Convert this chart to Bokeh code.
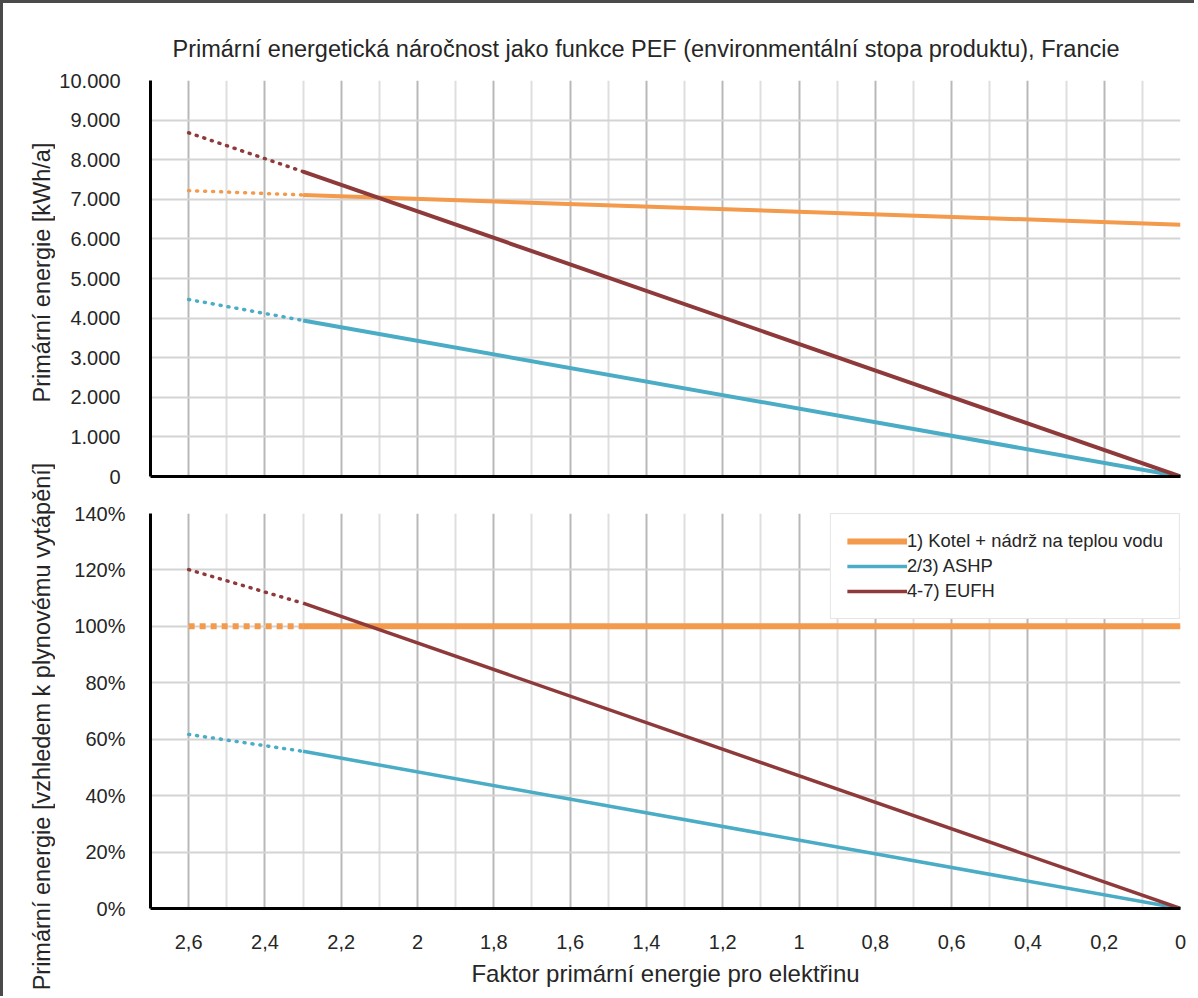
import math
from bokeh.plotting import figure
from bokeh.models import Range1d, FixedTicker, Grid, LinearAxis, Legend, LegendItem, Label
from bokeh.layouts import row, column
from bokeh.embed import file_html
from bokeh.resources import INLINE

# ---------------- data ----------------
title_text = "Primární energetická náročnost jako funkce PEF (environmentální stopa produktu), Francie"
x_label = "Faktor primární energie pro elektřinu"
y_label_top = "Primární energie [kWh/a]"
y_label_bottom = "Primární energie [vzhledem k plynovému vytápění]"
series_names = ["1) Kotel + nádrž na teplou vodu", "2/3) ASHP", "4-7) EUFH"]

# PEF values (x): dotted extrapolated part and solid part
pef_dotted = [2.6, 2.3]
pef_solid = [2.3, 0.0]

# top panel: primary energy [kWh/a]
kotel_kwh_dotted = [7220, 7110]
kotel_kwh_solid = [7110, 6360]
ashp_kwh_dotted = [4470, 3940]
ashp_kwh_solid = [3940, 0]
eufh_kwh_dotted = [8680, 7700]
eufh_kwh_solid = [7700, 0]

# bottom panel: relative to gas heating
kotel_rel_dotted = [1.0, 1.0]
kotel_rel_solid = [1.0, 1.0]
ashp_rel_dotted = [0.617, 0.557]
ashp_rel_solid = [0.557, 0.0]
eufh_rel_dotted = [1.201, 1.082]
eufh_rel_solid = [1.082, 0.0]

x_ticks = [2.6, 2.4, 2.2, 2.0, 1.8, 1.6, 1.4, 1.2, 1.0, 0.8, 0.6, 0.4, 0.2, 0.0]
x_tick_labels = ["2,6", "2,4", "2,2", "2", "1,8", "1,6", "1,4", "1,2", "1", "0,8", "0,6", "0,4", "0,2", "0"]
x_minor_grid = [2.5, 2.3, 2.1, 1.9, 1.7, 1.5, 1.3, 1.1, 0.9, 0.7, 0.5, 0.3, 0.1]
kwh_ticks = [0, 1000, 2000, 3000, 4000, 5000, 6000, 7000, 8000, 9000, 10000]
kwh_tick_labels = ["0", "1.000", "2.000", "3.000", "4.000", "5.000", "6.000", "7.000", "8.000", "9.000", "10.000"]
pct_ticks = [0.0, 0.2, 0.4, 0.6, 0.8, 1.0, 1.2, 1.4]
pct_tick_labels = ["0%", "20%", "40%", "60%", "80%", "100%", "120%", "140%"]

# ---------------- style ----------------
COLORS = ["#F39A4C", "#4BACC6", "#8E3A3A"]
FONT = "Liberation Sans"
TXT = "#262626"
B = 3             # page frame line
S = 52            # width of the strip holding the y-axis titles
W = 1139
H_TOP, H_BOT = 495, 498
LEFT = 150 - B - S


def make_fig(h, y_range, min_top, min_bottom):
    p = figure(width=W, height=h, x_range=Range1d(2.7, 0.0), y_range=y_range,
               x_axis_location=None, y_axis_location=None,
               output_backend="svg", toolbar_location=None,
               min_border_left=LEFT, min_border_right=W - LEFT - 1030,
               min_border_top=min_top, min_border_bottom=min_bottom,
               background_fill_color="white", border_fill_color="white",
               outline_line_color=None)
    p.center = [c for c in p.center if not isinstance(c, Grid)]
    p.add_layout(Grid(dimension=0,
                      ticker=FixedTicker(ticks=x_ticks, minor_ticks=x_minor_grid),
                      grid_line_color="#b8b8b8", grid_line_width=2,
                      minor_grid_line_color="#dedede", minor_grid_line_width=2))
    return p


def y_axis(ticks, labels, tick_standoff):
    return LinearAxis(ticker=FixedTicker(ticks=ticks),
                      major_label_overrides=dict(zip(ticks, labels)),
                      axis_line_color="black", axis_line_width=3,
                      major_tick_line_color=None, minor_tick_line_color=None,
                      major_tick_out=0, major_tick_in=0, minor_tick_out=0, minor_tick_in=0,
                      major_label_text_font=FONT, major_label_text_font_size="20px",
                      major_label_text_color=TXT, major_label_standoff=tick_standoff)


# ---------------- top panel ----------------
p_top = make_fig(H_TOP, Range1d(0, 10000), 80 - B, H_TOP - (80 - B) - 396)
p_top.add_layout(Grid(dimension=1, ticker=FixedTicker(ticks=kwh_ticks),
                      grid_line_color="#d4d4d4", grid_line_width=2))
p_top.add_layout(y_axis(kwh_ticks, kwh_tick_labels, 30), "left")
p_top.add_layout(LinearAxis(ticker=FixedTicker(ticks=[]), axis_line_color="black", axis_line_width=3,
                            major_tick_line_color=None, minor_tick_line_color=None,
                            major_tick_out=0, minor_tick_out=0), "below")
p_top.title.text = title_text
p_top.title.align = "left"
p_top.title.offset = 22
p_top.title.text_font = FONT
p_top.title.text_font_size = "23.5px"
p_top.title.text_font_style = "normal"
p_top.title.text_color = TXT
p_top.title.standoff = 37

top_dotted = [kotel_kwh_dotted, ashp_kwh_dotted, eufh_kwh_dotted]
top_solid = [kotel_kwh_solid, ashp_kwh_solid, eufh_kwh_solid]
for i in range(3):
    p_top.line(pef_dotted, top_dotted[i], line_color=COLORS[i], line_width=3.5,
               line_dash="1 7", line_cap="round")
    p_top.line(pef_solid, top_solid[i], line_color=COLORS[i], line_width=4)

# ---------------- bottom panel ----------------
p_bot = make_fig(H_BOT, Range1d(0, 1.4), 15, H_BOT - 15 - 395)
p_bot.add_layout(Grid(dimension=1, ticker=FixedTicker(ticks=pct_ticks),
                      grid_line_color="#d4d4d4", grid_line_width=2))
p_bot.add_layout(y_axis(pct_ticks, pct_tick_labels, 25), "left")
xax = LinearAxis(ticker=FixedTicker(ticks=x_ticks),
                 major_label_overrides=dict(zip(x_ticks, x_tick_labels)),
                 axis_label=x_label,
                 axis_line_color="black", axis_line_width=3,
                 major_tick_line_color=None, minor_tick_line_color=None,
                 major_tick_out=0, major_tick_in=0, minor_tick_out=0, minor_tick_in=0,
                 major_label_text_font=FONT, major_label_text_font_size="20px",
                 major_label_text_color=TXT, major_label_standoff=26,
                 axis_label_text_font=FONT, axis_label_text_font_size="24px",
                 axis_label_text_font_style="normal", axis_label_text_color=TXT,
                 axis_label_standoff=8)
p_bot.add_layout(xax, "below")

bot_dotted = [kotel_rel_dotted, ashp_rel_dotted, eufh_rel_dotted]
bot_solid = [kotel_rel_solid, ashp_rel_solid, eufh_rel_solid]
widths = [6, 3.5, 3.5]
dashes = ["6 5", "1 7", "1 7"]
caps = ["butt", "round", "round"]
items = []
for i in range(3):
    p_bot.line(pef_dotted, bot_dotted[i], line_color=COLORS[i], line_width=widths[i],
               line_dash=dashes[i], line_cap=caps[i])
    r = p_bot.line(pef_solid, bot_solid[i], line_color=COLORS[i], line_width=widths[i])
    items.append(LegendItem(label=series_names[i], renderers=[r]))

legend = Legend(items=items, location="top_right", margin=0, padding=16, spacing=3,
                glyph_width=60, glyph_height=20, label_standoff=0, label_height=20,
                label_text_font=FONT, label_text_font_size="18.4px", label_text_color=TXT,
                border_line_color="#cccccc", border_line_width=1,
                background_fill_color="white", background_fill_alpha=1.0)
p_bot.add_layout(legend)

# ---------------- strip with the y-axis titles ----------------
strip = figure(width=S, height=H_TOP + H_BOT, x_range=Range1d(0, S), y_range=Range1d(H_TOP + H_BOT, 0),
               x_axis_location=None, y_axis_location=None, output_backend="svg", toolbar_location=None,
               min_border=0, outline_line_color=None, background_fill_color="white",
               border_fill_color="white")
strip.grid.visible = False
for txt, yc in [(y_label_top, 272 - B), (y_label_bottom, 726 - B)]:
    strip.add_layout(Label(x=41 - B, y=yc, text=txt, angle=math.pi / 2, text_align="center",
                           text_baseline="middle", text_font=FONT, text_font_size="23.5px",
                           text_color=TXT))

layout = row(strip, column(p_top, p_bot, spacing=0), spacing=0,
             styles={"border-top": "3px solid #4a4a4a", "border-left": "3px solid #4a4a4a"})

open("out.html", "w").write(file_html(layout, INLINE))
